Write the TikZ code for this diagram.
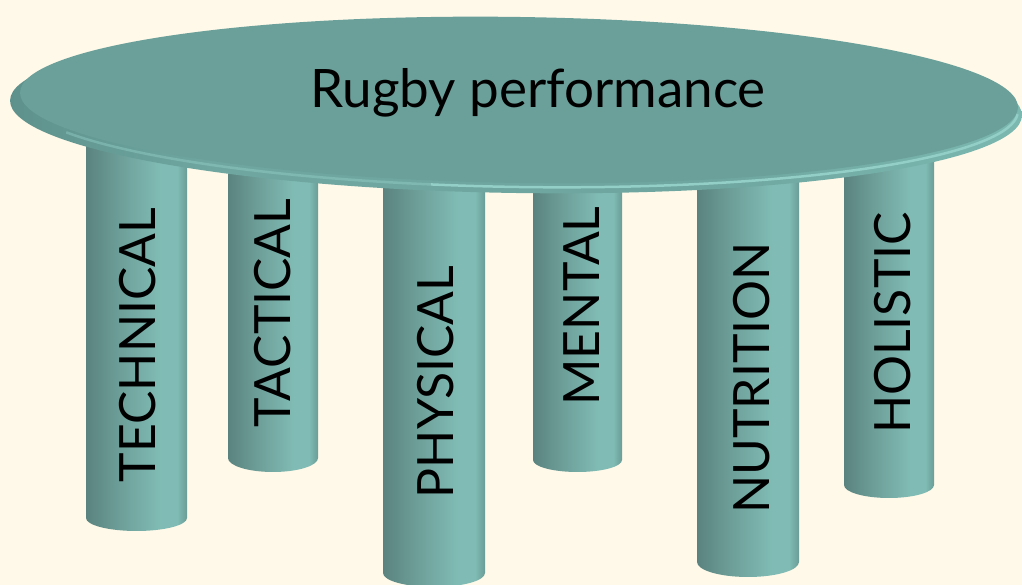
\documentclass[tikz,border=0pt]{standalone}
\usepackage{fontspec}
\setmainfont{Lato}
\definecolor{bg}{HTML}{FFF9E9}
\definecolor{tabletop}{HTML}{6BA09A}
\definecolor{rimleft}{HTML}{5E918C}
\definecolor{rimmid}{HTML}{6FA7A0}
\definecolor{rimright}{HTML}{7BB8B0}
\definecolor{rimhi}{HTML}{93CEC7}
\definecolor{pdark}{HTML}{5A837F}
\definecolor{pmid}{HTML}{6E9F99}
\definecolor{plight}{HTML}{80BCB5}
\definecolor{pedge}{HTML}{6A9C96}
\pgfdeclarehorizontalshading{pillarshade}{100bp}{color(0bp)=(pdark); color(25bp)=(pdark); color(42bp)=(pmid); color(62bp)=(plight); color(70bp)=(plight); color(75bp)=(pedge); color(100bp)=(pedge)}
\pgfdeclarehorizontalshading{rimshade}{100bp}{color(0bp)=(rimleft); color(25bp)=(rimleft); color(35bp)=(rimmid); color(60bp)=(rimmid); color(75bp)=(rimright); color(100bp)=(rimright)}
\newcommand\pillarshape[4]{%
  \shade[pillarbody] ({#1-#2},465) -- ({#1-#2},#3)
    arc[start angle=180, end angle=360, x radius=#2pt, y radius=#4pt]
    -- ({#1+#2},465) -- cycle;}
\begin{document}
\begin{tikzpicture}[x=1pt,y=1pt,
  pillarbody/.style={shading=pillarshade},
  pilltext/.style={font=\fontsize{50}{50}\selectfont, rotate=90, inner sep=0pt, text=black},
  toptext/.style={font=\fontsize{53}{53}\selectfont, inner sep=0pt, text=black}]
\fill[bg] (0,0) rectangle (1022,585);
\useasboundingbox (0,0) rectangle (1022,585);
% pillars
\pillarshape{136.5}{50.5}{67}{13}
\pillarshape{273}{45}{127}{14}
\pillarshape{434}{51}{12}{14}
\pillarshape{577.5}{44.5}{125}{12}
\pillarshape{748}{51}{23}{15}
\pillarshape{889}{45}{100}{13}
% table rim
\shade[shading=rimshade] (516,477) ellipse[x radius=506pt, y radius=85pt, rotate=-0.85];
\begin{scope}
\clip (516,477) ellipse[x radius=506pt, y radius=85pt, rotate=-0.85];
\begin{scope}[shift={(519,481)}, rotate=-0.85]
\draw[rimhi, line width=2.5pt, opacity=0.45] (205:499pt and 83pt) arc[start angle=205, end angle=260, x radius=499pt, y radius=83pt];
\draw[rimhi, line width=2.5pt] (260:499pt and 83pt) arc[start angle=260, end angle=358, x radius=499pt, y radius=83pt];
\end{scope}
\end{scope}
% table top
\fill[tabletop] (519,485) ellipse[x radius=499pt, y radius=83pt, rotate=-0.85];
% labels
\node[toptext, anchor=base] (top) at (538,477) {Rugby performance};
\node[pilltext] (technical) at (138,240) {TECHNICAL};
\node[pilltext] (tactical) at (273,272) {TACTICAL};
\node[pilltext] (physical) at (436,203) {PHYSICAL};
\node[pilltext] (mental) at (582,279) {MENTAL};
\node[pilltext] (nutrition) at (752,207) {NUTRITION};
\node[pilltext] (holistic) at (893,262) {HOLISTIC};
\end{tikzpicture}
\end{document}
